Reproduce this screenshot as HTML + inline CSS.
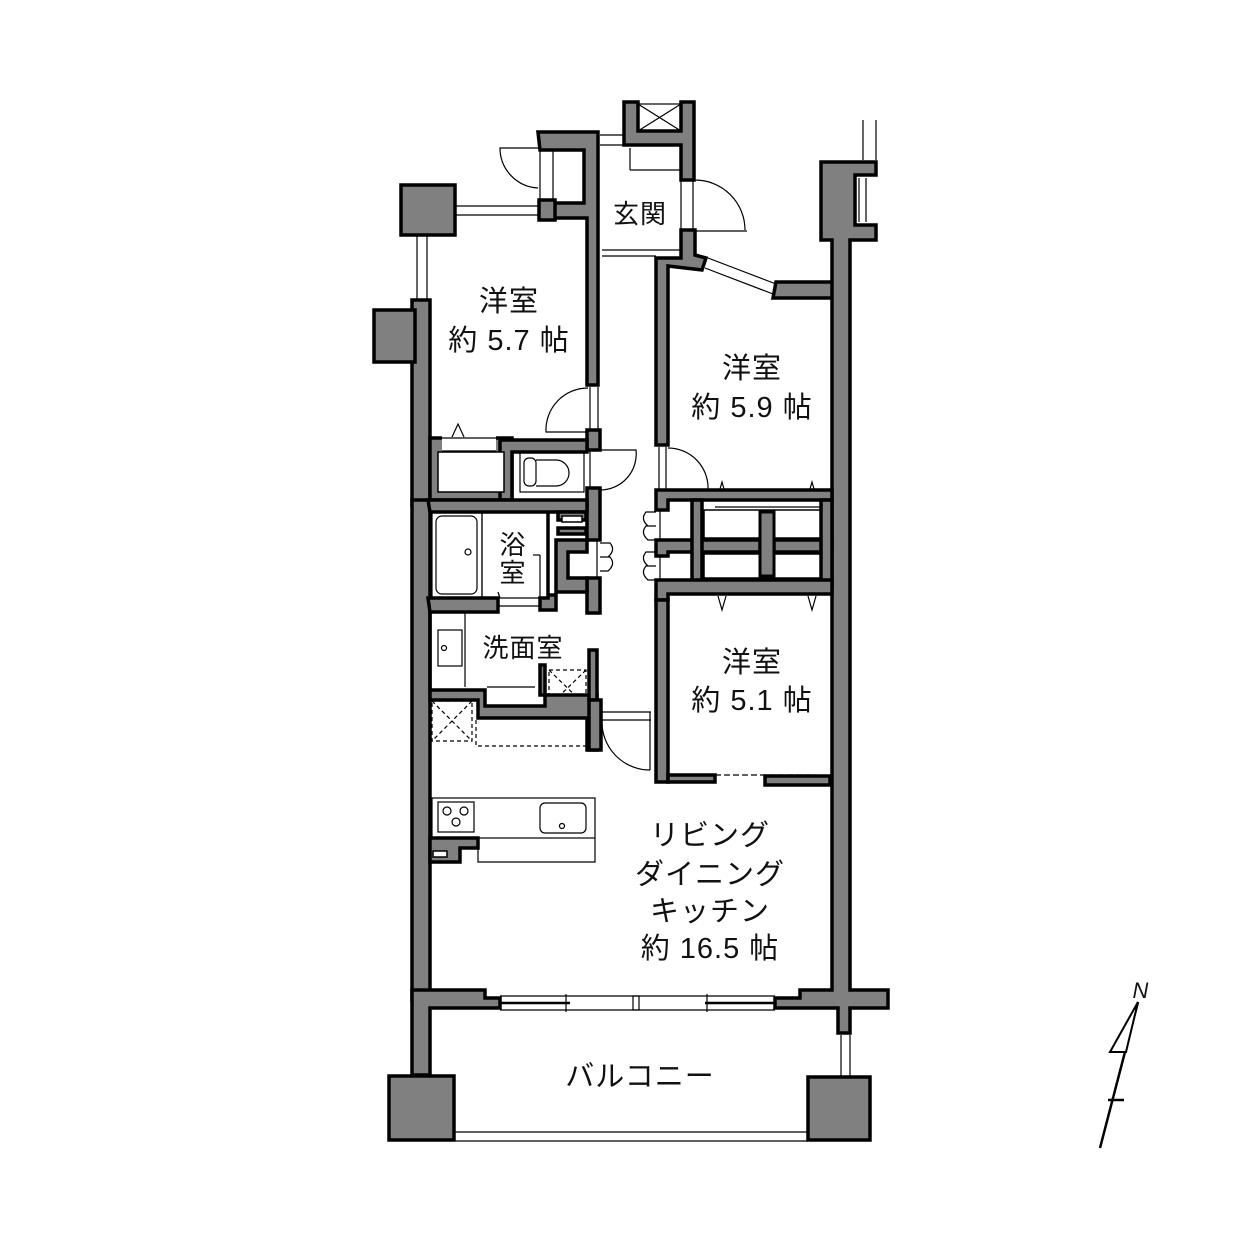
<!DOCTYPE html>
<html><head><meta charset="utf-8"><style>
html,body{margin:0;padding:0;background:#fff}
svg{display:block}
text{font-family:"Liberation Sans","Noto Sans CJK JP",sans-serif;fill:#111;text-anchor:middle;letter-spacing:1px}
</style></head><body>
<svg width="1252" height="1252" viewBox="0 0 1252 1252" xmlns="http://www.w3.org/2000/svg">
<g fill="none" stroke="#000" stroke-width="1.2">
<line x1="455" y1="206" x2="538" y2="206"/><line x1="455" y1="215" x2="538" y2="215"/>
<line x1="417" y1="235" x2="417" y2="300"/><line x1="427" y1="235" x2="427" y2="300"/>
<line x1="600" y1="135" x2="623" y2="135"/><line x1="600" y1="145" x2="623" y2="145"/>
<line x1="602" y1="250" x2="680" y2="250"/><line x1="602" y1="256" x2="656" y2="256"/>
<line x1="630" y1="148" x2="630" y2="170"/><line x1="630" y1="170" x2="680" y2="170"/>
<line x1="681" y1="180" x2="681" y2="230"/><line x1="693" y1="180" x2="693" y2="230"/>
<line x1="695" y1="231" x2="747" y2="231"/><path d="M695,180 A50,50 0 0 1 745,230"/>
<line x1="540" y1="148" x2="540" y2="203"/><line x1="553" y1="148" x2="553" y2="203"/>
<path d="M540,148 L500,148 A40,40 0 0 0 538,188"/>
<line x1="708" y1="258" x2="776" y2="284"/><line x1="705" y1="268" x2="773" y2="294"/>
<line x1="590" y1="387" x2="590" y2="430"/><line x1="598" y1="387" x2="598" y2="430"/>
<path d="M588,388 A42,42 0 0 0 546,432 L588,432"/>
<path d="M600,450 L636,450 A36,36 0 0 1 600,490"/>
<line x1="590" y1="450" x2="590" y2="488"/>
<line x1="659" y1="447" x2="659" y2="490"/><line x1="666" y1="447" x2="666" y2="490"/>
<path d="M668,448 A40,40 0 0 1 708,490 L668,490"/>
<rect x="520" y="452" width="64" height="40"/>
<rect x="524" y="458" width="12" height="28" rx="5"/>
<path d="M536,460 L556,460 A13,13 0 0 1 556,486 L536,486"/>
<rect x="432" y="512" width="50" height="86"/>
<rect x="436" y="516" width="41" height="78" rx="6"/>
<circle cx="468" cy="552" r="3"/>
<line x1="482" y1="512" x2="482" y2="598"/>
<line x1="533" y1="555" x2="540" y2="555"/><line x1="540" y1="555" x2="540" y2="598"/>
<line x1="498" y1="592" x2="500" y2="598"/>
<line x1="498" y1="598" x2="540" y2="598"/><line x1="498" y1="606" x2="545" y2="606"/>
<rect x="438" y="630" width="24" height="36"/><circle cx="444" cy="648" r="2.5"/>
<line x1="465" y1="612" x2="465" y2="687"/>
<line x1="487" y1="687" x2="535" y2="687"/>
<rect x="549" y="670" width="37" height="36" stroke-dasharray="4,3"/>
<path d="M549,670 L586,706 M586,670 L549,706" stroke-dasharray="4,3"/>
<line x1="592" y1="655" x2="592" y2="700" stroke-dasharray="4,3"/>
<rect x="432" y="701" width="40" height="40" stroke-dasharray="4,3"/>
<path d="M432,701 L472,741 M472,701 L432,741" stroke-dasharray="4,3"/>
<path d="M476,720 L476,746 L588,746" stroke-dasharray="4,3"/>
<line x1="600" y1="712" x2="651" y2="712"/><line x1="600" y1="720" x2="651" y2="720"/>
<line x1="650" y1="712" x2="650" y2="770"/>
<path d="M602,720 A48,48 0 0 0 650,770"/>
<path d="M656,512 L646,512 Q640,519 648,526 L656,526 M656,526 L646,526 Q640,533 648,540 L656,540"/>
<path d="M656,552 L646,552 Q640,559 648,566 L656,566 M656,566 L646,566 Q640,573 648,580 L656,580"/>
<line x1="660" y1="500" x2="660" y2="582"/>
<path d="M600,543 L610,543 Q616,550 608,557 L600,557 M600,557 L610,557 Q616,564 608,571 L600,571"/>
<line x1="597" y1="540" x2="597" y2="578"/>
<line x1="715" y1="498" x2="820" y2="498"/><line x1="715" y1="507" x2="820" y2="507"/>
<path d="M718,496 L722,482 L726,496 M808,496 L812,482 L816,496"/>
<line x1="715" y1="586" x2="820" y2="586"/><line x1="715" y1="594" x2="820" y2="594"/>
<path d="M718,596 L722,610 L726,596 M808,596 L812,610 L816,596"/>
<line x1="715" y1="775" x2="815" y2="775" stroke-dasharray="6,3"/>
<line x1="668" y1="775" x2="715" y2="775"/>
<rect x="432" y="798" width="163" height="40"/>
<rect x="438" y="802" width="36" height="30"/>
<circle cx="447" cy="811" r="4"/><circle cx="464" cy="811" r="4"/><circle cx="456" cy="822" r="4"/>
<rect x="540" y="803" width="46" height="30" rx="5"/><circle cx="562" cy="826" r="2.5"/>
<path d="M478,838 L478,862 L595,862 L595,838"/>
<line x1="500" y1="996" x2="775" y2="996"/><line x1="500" y1="1010" x2="775" y2="1010"/>
<line x1="500" y1="1003" x2="570" y2="1003" stroke-width="2.5"/><line x1="705" y1="1003" x2="775" y2="1003" stroke-width="2.5"/>
<line x1="566" y1="994" x2="566" y2="1012"/><line x1="707" y1="994" x2="707" y2="1012"/>
<rect x="633" y="996" width="6" height="14"/>
<line x1="455" y1="1132" x2="808" y2="1132"/><line x1="455" y1="1141" x2="808" y2="1141"/>
<line x1="841" y1="1035" x2="841" y2="1077"/><line x1="850" y1="1035" x2="850" y2="1077"/>
<line x1="863" y1="120" x2="863" y2="160"/><line x1="876" y1="120" x2="876" y2="160"/>
<line x1="859" y1="178" x2="859" y2="222"/><line x1="866" y1="178" x2="866" y2="222"/>
<rect x="638" y="104" width="43" height="27"/><path d="M638,104 L681,131 M681,104 L638,131"/>
</g>
<g fill="#808080" stroke="#000" stroke-width="3.5" stroke-linejoin="miter">
<rect x="412" y="300" width="18" height="205"/>
<rect x="374" y="310" width="41" height="52"/>
<rect x="401" y="185" width="54" height="50"/>
<!-- closet 5.7 -->
<rect x="430" y="438" width="82" height="62"/>
<rect x="412" y="500" width="18" height="500"/>
<polygon points="412,990 485,990 485,998 500,998 500,1008 430,1008 430,1075 412,1075"/>
<rect x="389" y="1076" width="65" height="64"/>
<polygon points="538,132 598,132 598,385 587,385 587,218 540,218 540,203 584,203 584,150 540,150"/>
<rect x="539" y="200" width="16" height="20"/>
<polygon points="624,102 638,102 638,131 681,131 681,102 694,102 694,180 681,180 681,145 624,145"/>
<polygon points="681,230 695,230 695,255 706,258 702,270 668,266 668,445 656,445 656,258 681,258"/>
<polygon points="776,282 840,282 840,298 773,298"/>
<polygon points="821,162 876,162 876,175 855,175 855,225 876,225 876,240 850,240 850,990 888,990 888,1008 850,1008 850,1033 838,1033 838,1008 775,1008 775,998 800,998 800,990 832,990 832,240 821,240"/>
<rect x="808" y="1077" width="62" height="63"/>
<rect x="587" y="430" width="13" height="20"/>
<rect x="587" y="488" width="13" height="52"/>
<rect x="587" y="578" width="13" height="35"/>
<polygon points="500,440 587,440 587,452 512,452 512,500 500,500"/>
<polygon points="428,500 587,500 587,512 548,512 548,595 556,595 556,610 540,610 540,598 548,598 548,512 430,512"/>
<rect x="558" y="512" width="28" height="8"/>
<rect x="558" y="528" width="28" height="6"/>
<polygon points="556,540 587,540 587,552 568,552 568,578 587,578 587,592 556,592"/>
<polygon points="428,598 498,598 498,612 430,612"/>
<polygon points="430,612 430,690 485,690 485,706 545,706 545,665 540,665 540,695 597,695 597,750 587,750 587,718 478,718 478,700 430,700"/>
<rect x="589" y="650" width="8" height="50"/>
<rect x="589" y="700" width="12" height="50"/>
<polygon points="656,490 832,490 832,500 668,500 668,510 656,510"/>
<polygon points="656,540 832,540 832,552 668,552 668,556 656,556"/>
<rect x="760" y="515" width="14" height="60"/>
<rect x="692" y="500" width="10" height="86"/>
<rect x="821" y="500" width="11" height="86"/>
<polygon points="656,580 832,580 832,594 668,594 668,600 656,600"/>
<rect x="656" y="600" width="12" height="182"/>
<polygon points="668,773 668,782 715,782 715,775 668,775"/>
<polygon points="765,776 830,776 830,785 765,785"/>
<polygon points="430,838 478,838 478,848 460,848 460,862 430,862"/>
</g>
<g fill="#fff" stroke="#000" stroke-width="1.5">
<rect x="438" y="452" width="66" height="40"/>
<rect x="442" y="436" width="54" height="15" stroke="none"/>
<rect x="433" y="851" width="14" height="6"/><rect x="562" y="516" width="20" height="6"/>
<rect x="704" y="510" width="116" height="28"/><rect x="704" y="554" width="116" height="24"/>
</g>
<g stroke="#000" stroke-width="1.2" fill="none">
<line x1="442" y1="438" x2="496" y2="438"/><line x1="442" y1="451" x2="496" y2="451"/>
<path d="M452,437 L458,424 L464,437"/>
</g>
<g fill="#808080" stroke="#000" stroke-width="3"><rect x="760" y="512" width="14" height="64"/></g>
<g stroke="#000" stroke-width="2.5" fill="none">
<line x1="1100" y1="1148" x2="1138" y2="1002"/>
<polygon points="1138,1002 1110,1052 1126,1052" stroke-width="2" fill="#fff"/>
<line x1="1108" y1="1100" x2="1124" y2="1100"/>
</g>
<text x="1141" y="998" font-size="22" font-style="italic">N</text>
<g font-size="29">
<text x="509" y="311">洋室</text><text x="509" y="350">約 5.7 帖</text>
<text x="640" y="223" font-size="26">玄関</text>
<text x="752" y="378">洋室</text><text x="752" y="417">約 5.9 帖</text>
<text x="513" y="554" font-size="26">浴</text><text x="513" y="582" font-size="26">室</text>
<text x="523" y="657" font-size="26">洗面室</text>
<text x="752" y="672">洋室</text><text x="752" y="710">約 5.1 帖</text>
<text x="710" y="845">リビング</text><text x="710" y="884">ダイニング</text>
<text x="710" y="921">キッチン</text><text x="710" y="958">約 16.5 帖</text>
<text x="640" y="1086">バルコニー</text>
</g>
</svg>
</body></html>
